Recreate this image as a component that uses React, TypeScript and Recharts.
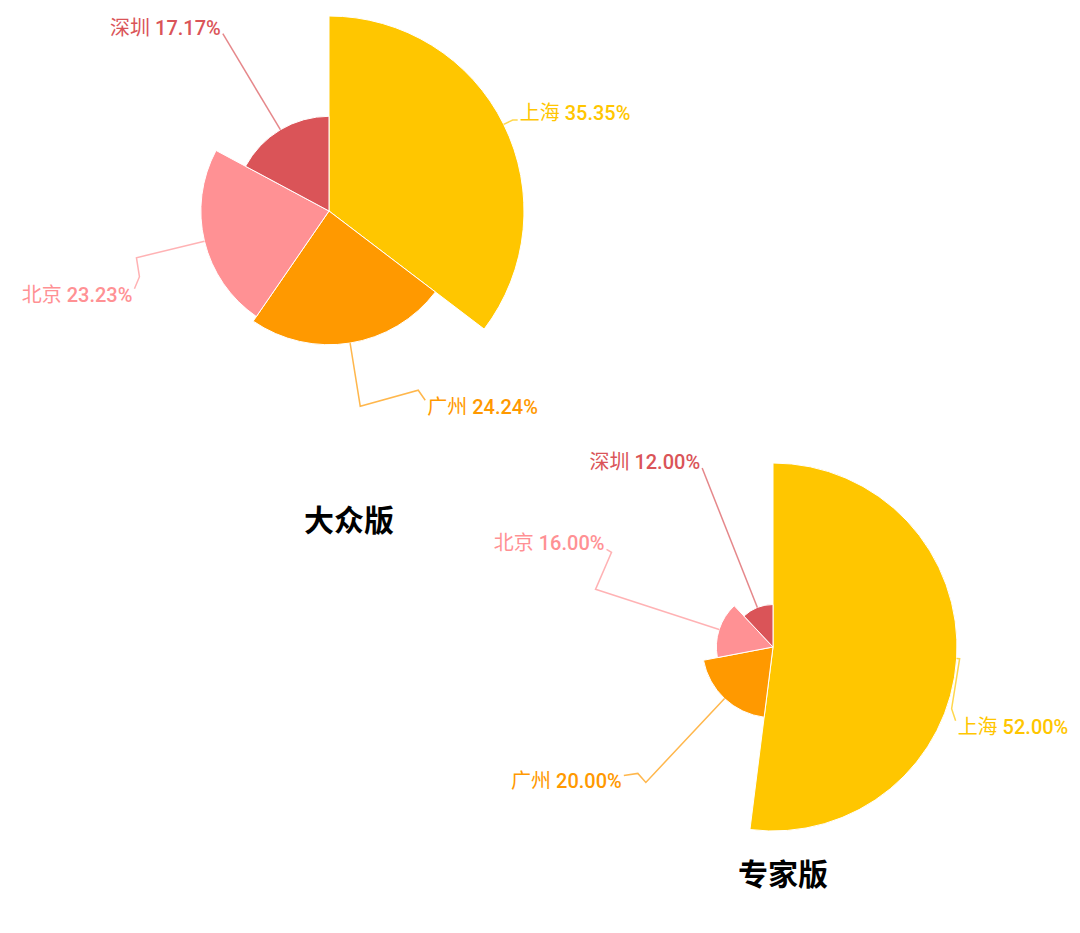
import React from 'react'
import { PieChart, Pie, Cell, Sector, Tooltip } from 'recharts'

const cities = ['上海', '广州', '北京', '深圳']
const publicVotes = [35, 24, 23, 17]
const expertVotes = [13, 5, 4, 3]
const colors = ['#FFC600', '#FF9900', '#FF9194', '#DA5458']

// label leader lines: radial lead length, then bends as [dx, dy] steps
const publicLabelPaths = [
  { lead: 10, bends: [[5, 0]], dy: -7 },
  { lead: 64, bends: [[58, -16], [7, 10]], dy: 7 },
  { lead: 70, bends: [[3, 19], [-5, 12]], dy: 6 },
  { lead: 112, bends: [], dy: -6 },
]
const expertLabelPaths = [
  { lead: 3, bends: [[-8, 50], [4, 12]], dy: 6 },
  { lead: 115, bends: [[-8, -9], [-14, 2]], dy: 6 },
  { lead: 130, bends: [[16, -37], [-5, -3]], dy: -6 },
  { lead: 150, bends: [], dy: -6 },
]

const publicData = cities.map((name, i) => ({ name, value: publicVotes[i] }))
const expertData = cities.map((name, i) => ({ name, value: expertVotes[i] }))

const RAD = Math.PI / 180
const FONT = "Roboto, 'Noto Sans CJK SC', sans-serif"

const makeRoseShape = (maxValue: number) => (props: any) => {
  const r = (props.outerRadius * props.value) / maxValue
  return <Sector {...props} outerRadius={r} />
}

const makeRoseLabel = (maxValue: number, paths: typeof publicLabelPaths) => (props: any) => {
  const { cx, cy, midAngle, outerRadius, value, percent, index, name } = props
  const r = (outerRadius * value) / maxValue
  const cos = Math.cos(-midAngle * RAD)
  const sin = Math.sin(-midAngle * RAD)
  const layout = paths[index]
  const pts: number[][] = [[cx + r * cos, cy + r * sin]]
  pts.push([cx + (r + layout.lead) * cos, cy + (r + layout.lead) * sin])
  layout.bends.forEach(([dx, dy]) => {
    const [px, py] = pts[pts.length - 1]
    pts.push([px + dx, py + dy])
  })
  const [ex, ey] = pts[pts.length - 1]
  const right = ex > cx
  const color = colors[index]
  return (
    <g>
      <polyline
        points={pts.map((p) => p.join(',')).join(' ')}
        fill="none"
        stroke={color}
        strokeOpacity={0.7}
        strokeWidth={1.5}
      />
      <text
        x={right ? ex + 2 : ex - 2}
        y={ey + layout.dy}
        textAnchor={right ? 'start' : 'end'}
        dominantBaseline="central"
        fill={color}
        fontSize={20}
        fontFamily={FONT}
      >
        <tspan fontWeight={400}>{name} </tspan>
        <tspan fontWeight={500}>{`${(percent * 100).toFixed(2)}%`}</tspan>
      </text>
    </g>
  )
}

const publicMax = Math.max(...publicVotes)
const expertMax = Math.max(...expertVotes)
const publicShape = makeRoseShape(publicMax)
const expertShape = makeRoseShape(expertMax)

const titleStyle: React.CSSProperties = {
  position: 'absolute',
  fontFamily: "'Noto Sans CJK SC', sans-serif",
  fontSize: 30,
  fontWeight: 700,
  color: '#000',
  transform: 'translate(-50%, -50%)',
  whiteSpace: 'nowrap',
}

export default function App() {
  return (
    <div style={{ position: 'absolute', left: 0, top: 0, width: 1080, height: 933, background: '#fff' }}>
      <PieChart width={1080} height={933} margin={{ top: 0, right: 0, bottom: 0, left: 0 }}>
        <Tooltip defaultIndex={0} content={() => null} />
        <Pie
          data={publicData}
          dataKey="value"
          nameKey="name"
          cx={329}
          cy={211}
          innerRadius={0}
          outerRadius={195}
          startAngle={90}
          endAngle={-270}
          stroke="#fff"
          strokeWidth={1}
          shape={publicShape}
          activeShape={publicShape}
          inactiveShape={publicShape}
          label={makeRoseLabel(publicMax, publicLabelPaths)}
          labelLine={false}
          isAnimationActive={false}
        >
          {publicData.map((d, i) => (
            <Cell key={d.name} fill={colors[i]} />
          ))}
        </Pie>
        <Pie
          data={expertData}
          dataKey="value"
          nameKey="name"
          cx={773}
          cy={647}
          innerRadius={0}
          outerRadius={184}
          startAngle={90}
          endAngle={-270}
          stroke="#fff"
          strokeWidth={1}
          shape={expertShape}
          activeShape={expertShape}
          inactiveShape={expertShape}
          label={makeRoseLabel(expertMax, expertLabelPaths)}
          labelLine={false}
          isAnimationActive={false}
        >
          {expertData.map((d, i) => (
            <Cell key={d.name} fill={colors[i]} />
          ))}
        </Pie>
      </PieChart>
      <div style={{ ...titleStyle, left: 349, top: 518 }}>大众版</div>
      <div style={{ ...titleStyle, left: 783, top: 872 }}>专家版</div>
    </div>
  )
}
